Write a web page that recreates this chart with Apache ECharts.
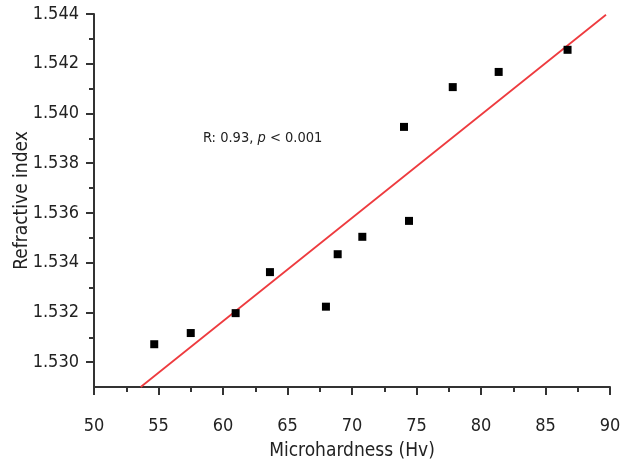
<!DOCTYPE html>
<html><head><meta charset="utf-8">
<script src="https://cdn.jsdelivr.net/npm/echarts@6/dist/echarts.min.js"></script>
<style>html,body{margin:0;padding:0;background:#fff}#c{width:625px;height:464px}</style>
</head><body><div id="c"></div>
<script>
// Data
const hardness = [54.67, 57.50, 60.98, 63.64, 67.98, 68.89, 70.80, 74.03, 74.42, 77.81, 81.37, 86.71];
const refIndex = [1.53072, 1.53117, 1.53197, 1.53362, 1.53223, 1.53434, 1.53504, 1.53946, 1.53568, 1.54106, 1.54167, 1.54256];
const fitX = [53.62, 89.69];
const fitY = [1.5290, 1.54397];
const yMajorTicks = [1.530, 1.532, 1.534, 1.536, 1.538, 1.540, 1.542, 1.544];
const yMinorTicks = [1.531, 1.533, 1.535, 1.537, 1.539, 1.541, 1.543];
const xLabel = 'Microhardness (Hv)';
const yLabel = 'Refractive index';
const annotation = ['R: 0.93, ', 'p', ' < 0.001'];

const FONT = 'DejaVu Sans Condensed';
const chart = echarts.init(document.getElementById('c'));
const axisCol = '#333';
chart.setOption({
  animation: false,
  grid: {left: 94, right: 15, top: 14, bottom: 77, outerBoundsMode: 'none', containLabel: false},
  xAxis: {
    type: 'value', min: 50, max: 90, interval: 5,
    axisLine: {show: true, onZero: false, lineStyle: {color: axisCol, width: 2}},
    axisTick: {show: true, inside: false, length: 8, lineStyle: {color: axisCol, width: 2}},
    minorTick: {show: true, splitNumber: 2, length: 5, lineStyle: {color: axisCol, width: 2}},
    splitLine: {show: false},
    axisLabel: {margin: 30, fontFamily: FONT, fontSize: 18, color: '#222'},
    name: xLabel, nameLocation: 'middle', nameGap: 55, nameMoveOverlap: false,
    nameTextStyle: {fontFamily: FONT, fontSize: 19, color: '#222'}
  },
  yAxis: [{
    type: 'value', min: 1.529, max: 1.544,
    axisLine: {show: true, onZero: false, lineStyle: {color: axisCol, width: 2}},
    axisTick: {show: true, length: 8, customValues: yMajorTicks, lineStyle: {color: axisCol, width: 2}},
    splitLine: {show: false},
    axisLabel: {margin: 15, fontFamily: FONT, fontSize: 18, color: '#222', customValues: yMajorTicks,
      formatter: v => v.toFixed(3)},
    name: yLabel, nameLocation: 'middle', nameGap: 62, nameMoveOverlap: false,
    nameTextStyle: {fontFamily: FONT, fontSize: 19, color: '#222'}
  }, {
    type: 'value', min: 1.529, max: 1.544, position: 'left',
    axisLine: {show: false},
    axisTick: {show: true, length: 5, customValues: yMinorTicks, lineStyle: {color: axisCol, width: 2}},
    splitLine: {show: false},
    axisLabel: {show: false}
  }],
  graphic: [{
    type: 'text', left: 203, top: 131,
    style: {
      text: '{a|' + annotation[0] + '}{b|' + annotation[1] + '}{a|' + annotation[2] + '}',
      rich: {
        a: {fontFamily: FONT, fontSize: 14.5, fill: '#222'},
        b: {fontFamily: FONT, fontSize: 14.5, fontStyle: 'italic', fill: '#222'}
      }
    }
  }],
  series: [{
    type: 'line', data: fitX.map((x, i) => [x, fitY[i]]),
    showSymbol: false, lineStyle: {color: '#ee3b3f', width: 1.8}, z: 1, silent: true
  }, {
    type: 'scatter', data: hardness.map((x, i) => [x, refIndex[i]]),
    symbol: 'rect', symbolSize: 8, itemStyle: {color: '#000', opacity: 1}, z: 2
  }]
});
</script></body></html>
